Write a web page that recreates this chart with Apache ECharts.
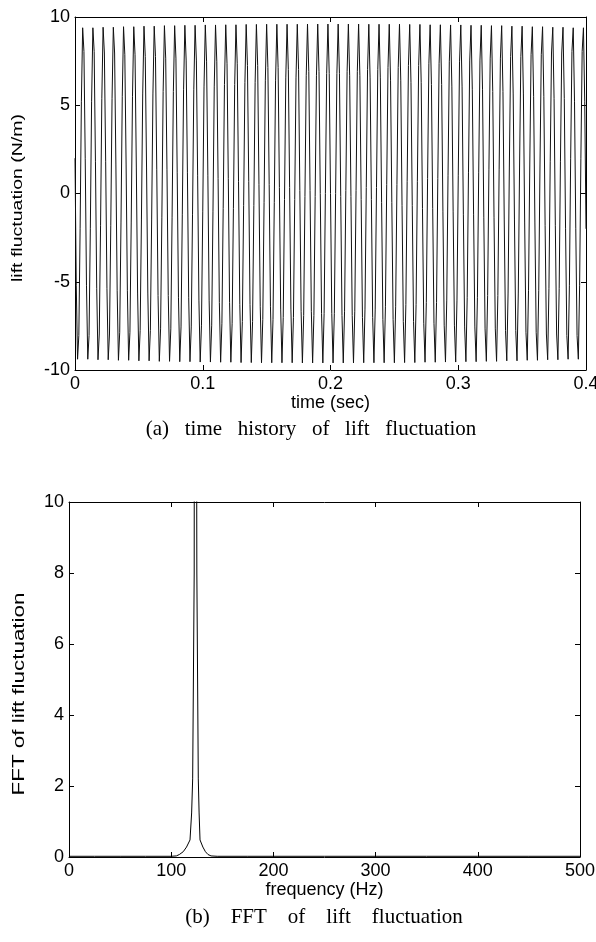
<!DOCTYPE html>
<html>
<head>
<meta charset="utf-8">
<script src="https://cdn.jsdelivr.net/npm/echarts@6/dist/echarts.min.js"></script>
<style>
html,body{margin:0;padding:0;background:#fff;overflow:hidden;}
#c{width:596px;height:942px;}
</style>
</head>
<body>
<div id="c"></div>
<script>
// ---- (a) time history of lift fluctuation, sampled every 1 ms from 0 to 0.4 s ----
const SAMPLE_DT = 0.001;
const LIFT = [
2.0,-5.23,-9.39,-8.05,-2.0,5.23,9.39,8.05,
2.0,-5.23,-9.39,-8.05,-2.0,5.23,9.39,8.05,
1.83,-5.37,-9.42,-7.96,-1.83,5.37,9.42,7.96,
1.83,-5.37,-9.42,-7.96,-1.83,5.37,9.42,7.96,
1.67,-5.51,-9.45,-7.86,-1.67,5.51,9.45,7.86,
1.67,-5.51,-9.45,-7.86,-1.67,5.51,9.45,7.86,
1.5,-5.64,-9.48,-7.77,-1.5,5.64,9.48,7.77,
1.5,-5.64,-9.48,-7.77,-1.5,5.64,9.48,7.77,
1.34,-5.78,-9.51,-7.67,-1.34,5.78,9.51,7.67,
1.34,-5.78,-9.51,-7.67,-1.34,5.78,9.51,7.67,
1.17,-5.91,-9.53,-7.56,-1.17,5.91,9.53,7.56,
1.17,-5.91,-9.53,-7.56,-1.17,5.91,9.53,7.56,
1.0,-6.04,-9.55,-7.46,-1.0,6.04,9.55,7.46,
1.0,-6.04,-9.55,-7.46,-1.0,6.04,9.55,7.46,
0.84,-6.17,-9.56,-7.35,-0.84,6.17,9.56,7.35,
0.84,-6.17,-9.56,-7.35,-0.84,6.17,9.56,7.35,
0.67,-6.3,-9.58,-7.25,-0.67,6.3,9.58,7.25,
0.67,-6.3,-9.58,-7.25,-0.67,6.3,9.58,7.25,
0.5,-6.42,-9.59,-7.13,-0.5,6.42,9.59,7.13,
0.5,-6.42,-9.59,-7.13,-0.5,6.42,9.59,7.13,
0.34,-6.55,-9.59,-7.02,-0.34,6.55,9.59,7.02,
0.34,-6.55,-9.59,-7.02,-0.34,6.55,9.59,7.02,
0.17,-6.67,-9.6,-6.91,-0.17,6.67,9.6,6.91,
0.17,-6.67,-9.6,-6.91,-0.17,6.67,9.6,6.91,
0,-6.79,-9.6,-6.79,0,6.79,9.6,6.79,
0,-6.79,-9.6,-6.79,0,6.79,9.6,6.79,
-0.17,-6.91,-9.6,-6.67,0.17,6.91,9.6,6.67,
-0.17,-6.91,-9.6,-6.67,0.17,6.91,9.6,6.67,
-0.34,-7.02,-9.59,-6.55,0.34,7.02,9.59,6.55,
-0.34,-7.02,-9.59,-6.55,0.34,7.02,9.59,6.55,
-0.5,-7.13,-9.59,-6.42,0.5,7.13,9.59,6.42,
-0.5,-7.13,-9.59,-6.42,0.5,7.13,9.59,6.42,
-0.67,-7.25,-9.58,-6.3,0.67,7.25,9.58,6.3,
-0.67,-7.25,-9.58,-6.3,0.67,7.25,9.58,6.3,
-0.84,-7.35,-9.56,-6.17,0.84,7.35,9.56,6.17,
-0.84,-7.35,-9.56,-6.17,0.84,7.35,9.56,6.17,
-1.0,-7.46,-9.55,-6.04,1.0,7.46,9.55,6.04,
-1.0,-7.46,-9.55,-6.04,1.0,7.46,9.55,6.04,
-1.17,-7.56,-9.53,-5.91,1.17,7.56,9.53,5.91,
-1.17,-7.56,-9.53,-5.91,1.17,7.56,9.53,5.91,
-1.34,-7.67,-9.51,-5.78,1.34,7.67,9.51,5.78,
-1.34,-7.67,-9.51,-5.78,1.34,7.67,9.51,5.78,
-1.5,-7.77,-9.48,-5.64,1.5,7.77,9.48,5.64,
-1.5,-7.77,-9.48,-5.64,1.5,7.77,9.48,5.64,
-1.67,-7.86,-9.45,-5.51,1.67,7.86,9.45,5.51,
-1.67,-7.86,-9.45,-5.51,1.67,7.86,9.45,5.51,
-1.83,-7.96,-9.42,-5.37,1.83,7.96,9.42,5.37,
-1.83,-7.96,-9.42,-5.37,1.83,7.96,9.42,5.37,
-2.0,-8.05,-9.39,-5.23,2.0,8.05,9.39,5.23,
-2.0,-8.05,-9.39,-5.23,2.0,8.05,9.39,5.23,
-2.0
];
const TIME_TICKS = [0, 0.1, 0.2, 0.3, 0.4];
const LIFT_TICKS = [-10, -5, 0, 5, 10];

// ---- (b) FFT of lift fluctuation ----
const FREQ = [0,25,50,75,100,105,108,111.8,115,118.4,120,121,122.5,123.2,124.4,125.1,126.5,127.3,128.2,131,133.5,136,139,145,175,200,250,300,350,400,450,500];
const FFT_AMP = [0.02,0.02,0.02,0.02,0.02,0.03,0.07,0.15,0.28,0.48,1.24,2.2,8,40,40,8,2.2,1.24,0.48,0.28,0.15,0.07,0.03,0.02,0.02,0.02,0.02,0.02,0.02,0.02,0.02,0.02];
const FREQ_TICKS = [0, 100, 200, 300, 400, 500];
const FFT_TICKS = [0, 2, 4, 6, 8, 10];

const CAPTION_A = '(a)   time   history   of   lift   fluctuation';
const CAPTION_B = '(b)    FFT    of    lift    fluctuation';
const YTITLE_A = 'lift fluctuation (N/m)';
const YTITLE_B = 'FFT of lift fluctuation';
const XTITLE_A = 'time (sec)';
const XTITLE_B = 'frequency (Hz)';

const SANS = 'Liberation Sans, Arial, sans-serif';
const SERIF = 'Liberation Serif, Times New Roman, serif';

const liftData = LIFT.map((v, i) => [i * SAMPLE_DT, v]);
const fftData = FREQ.map((f, i) => [f, FFT_AMP[i]]);

function axisBase(showLabel, ticks) {
  return {
    type: 'value',
    min: ticks[0],
    max: ticks[ticks.length - 1],
    interval: ticks[1] - ticks[0],
    axisLine: { show: true, onZero: false, lineStyle: { color: '#000', width: 1 } },
    axisTick: { show: true, inside: true, length: 5, lineStyle: { color: '#000', width: 1 } },
    splitLine: { show: false },
    axisLabel: { show: showLabel, color: '#000', fontFamily: SANS, fontSize: 18, margin: 5,
      hideOverlap: false }
  };
}

const chart = echarts.init(document.getElementById('c'), null, { renderer: 'canvas' });
chart.setOption({
  animation: false,
  backgroundColor: '#fff',
  grid: [
    { left: 75, top: 17, width: 511, height: 353, containLabel: false, outerBoundsMode: 'none' },
    { left: 69, top: 502, width: 511, height: 355, containLabel: false, outerBoundsMode: 'none' }
  ],
  xAxis: [
    Object.assign(axisBase(true, TIME_TICKS), { gridIndex: 0, position: 'bottom',
      name: XTITLE_A, nameLocation: 'middle', nameGap: 22,
      nameTextStyle: { color: '#000', fontFamily: SANS, fontSize: 18 } }),
    Object.assign(axisBase(false, TIME_TICKS), { gridIndex: 0, position: 'top' }),
    Object.assign(axisBase(true, FREQ_TICKS), { gridIndex: 1, position: 'bottom',
      name: XTITLE_B, nameLocation: 'middle', nameGap: 21,
      nameTextStyle: { color: '#000', fontFamily: SANS, fontSize: 18 } }),
    Object.assign(axisBase(false, FREQ_TICKS), { gridIndex: 1, position: 'top' })
  ],
  yAxis: [
    Object.assign(axisBase(true, LIFT_TICKS), { gridIndex: 0, position: 'left' }),
    Object.assign(axisBase(false, LIFT_TICKS), { gridIndex: 0, position: 'right' }),
    Object.assign(axisBase(true, FFT_TICKS), { gridIndex: 1, position: 'left' }),
    Object.assign(axisBase(false, FFT_TICKS), { gridIndex: 1, position: 'right' })
  ],
  series: [
    { type: 'line', xAxisIndex: 0, yAxisIndex: 0, data: liftData, showSymbol: false, symbol: 'none',
      lineStyle: { color: '#111', width: 1 }, clip: true },
    { type: 'line', xAxisIndex: 2, yAxisIndex: 2, data: fftData, showSymbol: false, symbol: 'none',
      lineStyle: { color: '#000', width: 1 }, clip: true }
  ],
  graphic: [
    { type: 'text', x: 18, y: 198, rotation: Math.PI / 2, scaleX: 1.3,
      style: { text: YTITLE_A, fill: '#000', font: '15px ' + SANS, textAlign: 'center', textVerticalAlign: 'middle' } },
    { type: 'text', x: 20, y: 694, rotation: Math.PI / 2, scaleX: 1.4,
      style: { text: YTITLE_B, fill: '#000', font: '16px ' + SANS, textAlign: 'center', textVerticalAlign: 'middle' } },
    { type: 'text', x: 311, y: 429,
      style: { text: CAPTION_A, fill: '#000', font: '21px ' + SERIF, textAlign: 'center', textVerticalAlign: 'middle' } },
    { type: 'text', x: 324, y: 917,
      style: { text: CAPTION_B, fill: '#000', font: '21px ' + SERIF, textAlign: 'center', textVerticalAlign: 'middle' } }
  ]
});
</script>
</body>
</html>
